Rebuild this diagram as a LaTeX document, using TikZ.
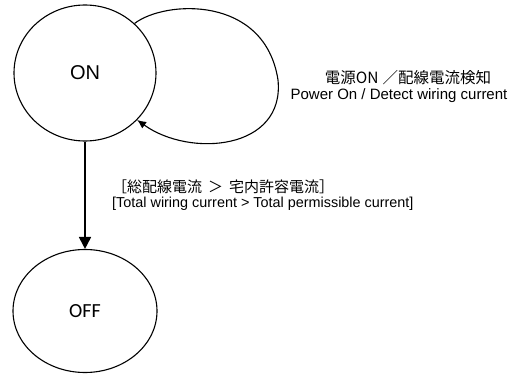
\documentclass[tikz,border=0pt]{standalone}
\usepackage{fontspec}
\setmainfont{Liberation Sans}
\newfontfamily\cjk{Noto Sans CJK JP}
\newfontfamily\calib{Carlito}
\usetikzlibrary{arrows.meta,shapes.geometric}
\begin{document}
\begin{tikzpicture}[x=1pt,y=-1pt,
  state/.style={draw,ellipse,line width=1.1pt,inner sep=0pt},
  lbl/.style={font=\fontsize{14}{16}\selectfont,inner sep=0pt}]
\useasboundingbox (0,0) rectangle (517,382);
\node[state,minimum width=142pt,minimum height=136pt,font=\fontsize{20}{22}\selectfont] (on) at (85,73) {ON};
\node[state,minimum width=144pt,minimum height=123pt,font=\calib\fontsize{20}{22}\selectfont] (off) at (85,311) {OFF};
\draw[line width=1.1pt,-{Latex[length=9pt,width=8pt]}] (on.45) .. controls (165,0) and (265,-5) .. (278,80) .. controls (285,150) and (190,158) .. (on.-42);
\draw[line width=1.8pt,-{Triangle[length=12pt,width=12pt]}] (on.south) -- (off.north);
\node[lbl,font=\cjk\fontsize{15.5}{17}\selectfont] (l1) at (408,78) {電源ON\hspace{4pt}／配線電流検知};
\node[lbl,font=\fontsize{15}{17}\selectfont] (l2) at (399,96) {Power On / Detect wiring current};
\node[lbl,anchor=west,font=\cjk\fontsize{15}{17}\selectfont] (l3) at (112,187) {［総配線電流\hspace{6pt}＞\hspace{6pt}宅内許容電流］};
\node[lbl,anchor=west,font=\fontsize{14.4}{16}\selectfont] (l4) at (112,204) {[Total wiring current > Total permissible current]};
\end{tikzpicture}
\end{document}
